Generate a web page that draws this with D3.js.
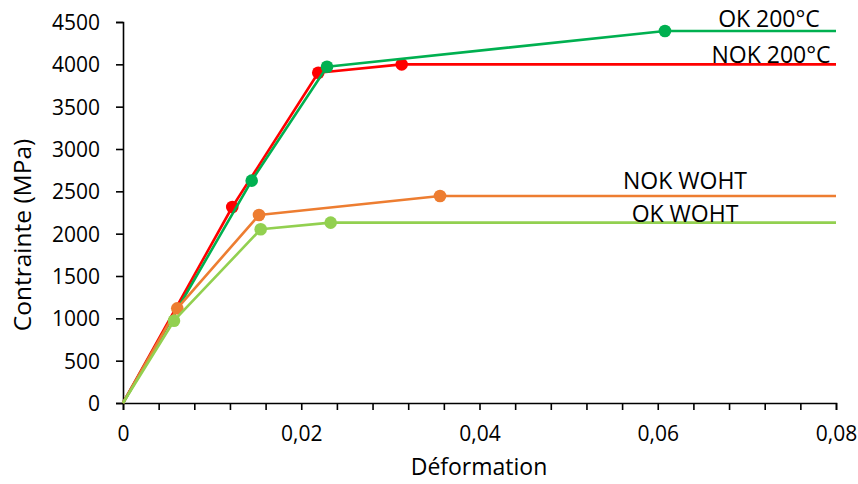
<!DOCTYPE html>
<html>
<head>
<meta charset="utf-8">
<script src="https://cdn.jsdelivr.net/npm/d3@7"></script>
<style>
  html, body { margin: 0; padding: 0; background: #fff; }
  svg { display: block; font-family: "Open Sans", sans-serif; }
</style>
</head>
<body>
<svg id="chart" width="858" height="484"></svg>
<script>
// ---- data ----
const xTicks = [0, 0.02, 0.04, 0.06, 0.08];
const yTicks = [0, 500, 1000, 1500, 2000, 2500, 3000, 3500, 4000, 4500];

const nok200X = [0, 0.01226, 0.02191, 0.03127, 0.08];
const nok200Y = [0, 2315, 3901, 4000, 4000];

const ok200X = [0, 0.01444, 0.02289, 0.06081, 0.08];
const ok200Y = [0, 2626, 3972, 4394, 4394];

const nokWohtX = [0, 0.00609, 0.01526, 0.03557, 0.08];
const nokWohtY = [0, 1118, 2220, 2445, 2445];

const okWohtX = [0, 0.00572, 0.01545, 0.0233, 0.08];
const okWohtY = [0, 972, 2052, 2130, 2130];

const seriesNames = ["NOK 200°C", "OK 200°C", "NOK WOHT", "OK WOHT"];

// ---- layout / style ----
const svg = d3.select("#chart");
const x = d3.scaleLinear().domain([0, 0.08]).range([123, 836]);
const y = d3.scaleLinear().domain([0, 4500]).range([403, 22]);

const series = [
  { name: seriesNames[0], xs: nok200X, ys: nok200Y, color: "#FF0000", lx: 771, dy: -1 },
  { name: seriesNames[1], xs: ok200X, ys: ok200Y, color: "#00B050", lx: 769, dy: -4 },
  { name: seriesNames[2], xs: nokWohtX, ys: nokWohtY, color: "#ED7D31", lx: 685, dy: -7 },
  { name: seriesNames[3], xs: okWohtX, ys: okWohtY, color: "#92D050", lx: 685, dy: -1 }
];

// axes
const xAxis = d3.axisBottom(x)
  .tickValues(d3.range(0, 0.0801, 0.004))
  .tickSize(7)
  .tickFormat(d => xTicks.some(t => Math.abs(t - d) < 1e-9) ? d3.format(".2f")(d).replace(".", ",").replace(/^0,00$/, "0") : "");
const gx = svg.append("g").attr("transform", "translate(0,403)").call(xAxis);
gx.select(".domain").attr("stroke", "#000").attr("stroke-width", 1.6);
gx.selectAll(".tick line").attr("stroke", "#000").attr("stroke-width", 1.6);
gx.selectAll(".tick text").attr("font-size", 21).attr("fill", "#000")
  .attr("y", 0).attr("dy", 0).attr("transform", "translate(0,38)")
  .attr("font-family", "'Open Sans', sans-serif");

const yAxis = d3.axisLeft(y).tickValues(yTicks).tickSize(7).tickPadding(16).tickFormat(d3.format("d"));
const gy = svg.append("g").attr("transform", "translate(123,0)").call(yAxis);
gy.select(".domain").attr("stroke", "#000").attr("stroke-width", 1.6);
gy.selectAll(".tick line").attr("stroke", "#000").attr("stroke-width", 1.6);
gy.selectAll(".tick text").attr("font-size", 21).attr("fill", "#000")
  .attr("dy", "0.36em").attr("font-family", "'Open Sans', sans-serif");
gx.select(".domain").raise();

// lines + markers
const line = d3.line().x(d => x(d[0])).y(d => y(d[1]));
series.forEach(s => {
  const pts = s.xs.map((v, i) => [v, s.ys[i]]);
  const g = svg.append("g");
  g.append("path").datum(pts)
    .attr("d", line)
    .attr("fill", "none")
    .attr("stroke", s.color)
    .attr("stroke-width", 2.6)
    .attr("stroke-linejoin", "round");
  g.selectAll("circle").data(pts.slice(1, -1)).join("circle")
    .attr("cx", d => x(d[0])).attr("cy", d => y(d[1]))
    .attr("r", 6.3).attr("fill", s.color);
  svg.append("text")
    .attr("x", s.lx)
    .attr("y", y(s.ys[s.ys.length - 1]) + s.dy)
    .attr("text-anchor", "middle")
    .attr("font-size", 23)
    .attr("fill", "#000")
    .text(s.name);
});

// axis titles
svg.append("text")
  .attr("x", 479).attr("y", 475)
  .attr("text-anchor", "middle")
  .attr("font-size", 23)
  .text("Déformation");
svg.append("text")
  .attr("transform", "translate(31,235) rotate(-90)")
  .attr("text-anchor", "middle")
  .attr("font-size", 24.5)
  .text("Contrainte (MPa)");
</script>
</body>
</html>
